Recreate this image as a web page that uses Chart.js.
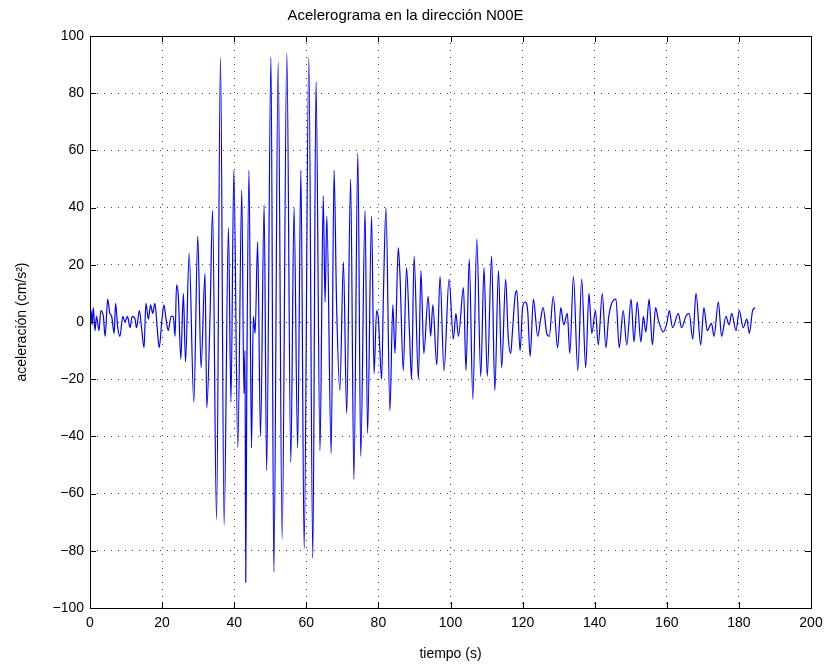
<!DOCTYPE html>
<html>
<head>
<meta charset="utf-8">
<title>Acelerograma</title>
<script src="https://cdn.jsdelivr.net/npm/chart.js@4.4.1/dist/chart.umd.min.js"></script>
<style>
  html, body { margin: 0; padding: 0; background: #fff; }
  #wrap { position: relative; width: 830px; height: 667px; }
</style>
</head>
<body>
<div id="wrap"><canvas id="chart"></canvas></div>
<script>
// values (turning points of the record)
const tiempo = [
  0.0, 0.3, 0.6, 0.9, 1.4, 1.8, 2.5, 3.0, 3.7, 4.2, 4.9, 5.5, 6.0, 6.7, 7.1, 7.7, 8.3, 9.1, 9.7, 10.4,
  11.1, 11.7, 12.5, 12.9, 13.7, 14.3, 15.0, 15.5, 16.2, 16.8, 17.4, 18.0, 18.7, 19.2, 19.9, 20.5, 21.1, 21.7, 22.5, 23.1,
  23.6, 24.0, 24.5, 25.2, 25.9, 26.5, 27.5, 28.8, 29.9, 30.8, 31.9, 32.4, 33.3, 34.0, 35.1, 36.2, 37.2, 38.4, 39.1, 39.9,
  41.0, 42.1, 42.7, 43.0, 43.2, 43.5, 44.1, 44.8, 45.3, 45.8, 46.5, 47.3, 48.3, 49.0, 50.2, 51.0, 52.2, 53.3, 54.6, 55.7,
  56.6, 57.6, 58.5, 59.4, 60.7, 61.8, 62.7, 63.8, 64.7, 65.2, 65.7, 66.9, 67.7, 68.4, 69.3, 70.3, 71.2, 72.3, 73.2, 74.3,
  75.1, 76.3, 77.0, 78.1, 78.8, 79.5, 80.0, 80.9, 81.4, 82.1, 83.2, 84.0, 84.6, 85.5, 86.0, 86.9, 87.8, 88.6, 89.2, 89.9,
  91.1, 91.8, 92.6, 93.8, 94.5, 95.1, 96.2, 97.1, 98.2, 99.6, 100.8, 101.5, 102.2, 103.6, 104.3, 105.2, 106.2, 107.3, 108.4, 109.3,
  110.2, 111.4, 112.3, 113.3, 114.2, 115.3, 116.0, 116.7, 117.2, 117.9, 118.4, 119.3, 120.0, 120.7, 121.4, 122.1, 123.0, 124.2, 125.0, 125.7,
  126.7, 127.4, 128.5, 129.7, 130.6, 131.4, 132.4, 133.1, 134.1, 135.3, 136.4, 137.5, 138.4, 139.2, 140.2, 141.0, 142.1, 143.1, 143.9, 145.9,
  146.8, 147.9, 148.9, 150.1, 150.9, 151.8, 152.8, 153.5, 154.2, 155.1, 156.0, 156.9, 157.6, 159.0, 160.0, 160.7, 161.6, 163.2, 164.1, 165.3,
  166.2, 167.2, 168.1, 169.4, 170.3, 171.2, 172.4, 173.1, 174.3, 175.2, 176.4, 177.3, 178.0, 179.2, 180.1, 181.2, 182.2, 182.9, 183.8, 184.5
];
const aceleracion = [
  2, 4, -1, 5, -3, 2, -3, 4, 2, -5, 8, 3, 2, -4, 6.5, -2, -5, 2, 0, 2,
  -2, 2, 1, -2, 4, -2, -9, 6.5, 1, 6, 3, 6.5, -3, -9, 0, 6, 1, -3, 2, 2,
  -5, 13, 9, -13, 10, -14, 24, -28, 30, -16, 17, -30, 2, 39, -69, 92.5, -71, 33, -28, 53,
  -44, 46, -25, -10, -91, -20, 53, -44, 2, -4, 28, -40, 41, -52, 92.5, -87.5, 91, -76, 94, -49,
  40, -44, 53, -79, 92.5, -82.5, 84, -45, 44, 7, 37, -46, 53, 6, -24, 21, -32, 50, -55, 59,
  -47, 39, -39, 37, -18, 4, 1, -20, 10, 40, -31, 6, -11, 26, 16, -17, 19, -3, -20, 23,
  -20, 18, -11, 9, -5, 6, -15, 16, -17, 15, -6, 3, -5, 12, -17, 22, -27, 29, -19, 19,
  -19, 23, -24, 18, -16, 15, -5, -11, -3, 9, 11, -10, 5, 7, 4, -12, 8, -5, 1, 5,
  -4, -5, 9, -9, 5, -1, 3, -11, 16, -17, 15, -16, 10, -4, 4, -8, 10, -9, 2, 8,
  -9, 4, -8, 8, -7, 7, -7, 2, -3.5, 8, -8, 5, 1, -3.5, -0.5, 4, -2, 3, -2, 2,
  3, -6, 10, -8, 5, -3, -0.5, -5, 7, -5, 2, -1, 3, -3, 4, -2, 1, -4, 4, 5
];
const xTicks = [0, 20, 40, 60, 80, 100, 120, 140, 160, 180, 200];
const yTicks = [-100, -80, -60, -40, -20, 0, 20, 40, 60, 80, 100];

const fontName = "'Liberation Sans', Arial, Helvetica, sans-serif";

const puntos = tiempo.map((t, i) => ({x: t, y: aceleracion[i]}));

function menos(v) {
    return String(v).replace('-', '\u2212');
}

// box round the plot and inward tick marks (matlab style)
const cajaPlugin = {
    id: 'caja',
    afterDraw(chart) {
        const ctx = chart.ctx;
        const a = chart.chartArea;
        const sx = chart.scales.x;
        const sy = chart.scales.y;
        const len = 6;
        ctx.save();
        ctx.strokeStyle = '#000';
        ctx.lineWidth = 1;
        ctx.beginPath();
        xTicks.forEach(v => {
            const px = Math.round(sx.getPixelForValue(v)) + 0.5;
            ctx.moveTo(px, a.bottom); ctx.lineTo(px, a.bottom - len);
            ctx.moveTo(px, a.top); ctx.lineTo(px, a.top + len);
        });
        yTicks.forEach(v => {
            const py = Math.round(sy.getPixelForValue(v)) + 0.5;
            ctx.moveTo(a.left, py); ctx.lineTo(a.left + len, py);
            ctx.moveTo(a.right, py); ctx.lineTo(a.right - len, py);
        });
        ctx.stroke();
        ctx.strokeRect(Math.round(a.left) + 0.5, Math.round(a.top) + 0.5,
            Math.round(a.right - a.left), Math.round(a.bottom - a.top));
        ctx.restore();
    }
};

const ctx = document.getElementById('chart').getContext('2d');
new Chart(ctx, {
    type: 'line',
    data: {
        datasets: [{
            label: 'N00E',
            data: puntos,
            borderColor: '#0000ff',
            borderWidth: 1.2,
            pointRadius: 0,
            cubicInterpolationMode: 'monotone',
            fill: false
        }]
    },
    options: {
        responsive: true,
        maintainAspectRatio: false,
        animation: false,
        layout: { padding: { top: 0, right: 19, bottom: 0, left: 0 } },
        plugins: {
            legend: { display: false },
            tooltip: { enabled: false },
            title: {
                display: true,
                text: 'Acelerograma en la dirección N00E',
                color: '#000',
                font: { family: fontName, size: 15, weight: 'normal' },
                padding: { top: 7, bottom: 11 }
            }
        },
        scales: {
            x: {
                type: 'linear',
                min: 0,
                max: 200,
                afterBuildTicks: s => { s.ticks = xTicks.map(v => ({value: v})); },
                afterFit: s => { s.height = 59; },
                border: { display: false, dash: [1, 6] },
                grid: {
                    color: '#444',
                    lineWidth: 1,
                    drawTicks: false
                },
                ticks: {
                    color: '#000',
                    padding: 7,
                    maxRotation: 0,
                    font: { family: fontName, size: 14 },
                    callback: v => menos(v)
                },
                title: {
                    display: true,
                    text: 'tiempo (s)',
                    color: '#000',
                    font: { family: fontName, size: 14 },
                    padding: { top: 0, bottom: 4 }
                }
            },
            y: {
                type: 'linear',
                min: -100,
                max: 100,
                afterBuildTicks: s => { s.ticks = yTicks.map(v => ({value: v})); },
                afterFit: s => { s.width = 90; },
                border: { display: false, dash: [1, 6] },
                grid: {
                    color: '#444',
                    lineWidth: 1,
                    drawTicks: false
                },
                ticks: {
                    color: '#000',
                    padding: 6,
                    font: { family: fontName, size: 14 },
                    callback: v => menos(v)
                },
                title: {
                    display: true,
                    text: 'aceleración (cm/s²)',
                    color: '#000',
                    font: { family: fontName, size: 14 },
                    padding: { top: 14, bottom: 0 }
                }
            }
        }
    },
    plugins: [cajaPlugin]
});
</script>
</body>
</html>
